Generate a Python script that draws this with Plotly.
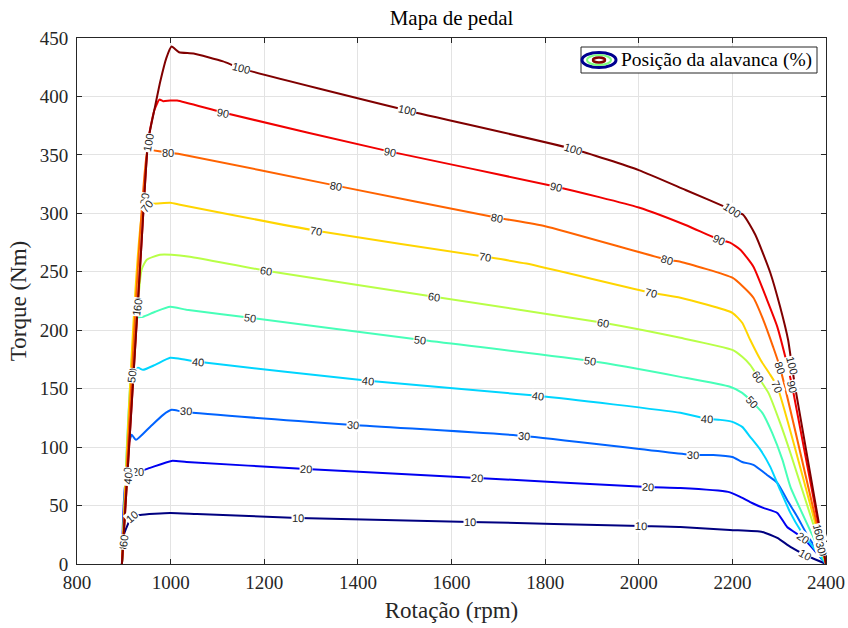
import plotly.graph_objects as go

levels = [10, 20, 30, 40, 50, 60, 70, 80, 90, 100]
colors = ["#000080", "#0000f1", "#0063ff", "#00d5ff", "#47ffb8",
          "#b8ff47", "#ffd500", "#ff6300", "#f10000", "#800000"]

rpm_10 = [896, 900, 917, 935, 999, 1056, 1272, 1640, 2005, 2089, 2195, 2264, 2296, 2324, 2356, 2400]
nm_10 = [0, 24.8, 40.2, 42, 43.7, 42.8, 39.4, 36, 32.5, 31.7, 29.1, 27.4, 22.3, 14.6, 7.7, 0]

rpm_20 = [896, 908, 930, 956, 1002, 1034, 1289, 1655, 2020, 2089, 2191, 2217, 2242, 2266, 2296, 2317, 2351, 2371, 2400]
nm_20 = [0, 78.8, 78.8, 82.2, 88.2, 87.3, 81.3, 73.6, 65.9, 65.1, 61.7, 57.4, 52.2, 48, 43.7, 31.7, 22.3, 13.7, 0]

rpm_30 = [896, 911, 917, 926, 956, 984, 1002, 1027, 1390, 1755, 2116, 2159, 2200, 2221, 2245, 2274, 2296, 2317, 2339, 2360, 2400]
nm_30 = [0, 103.6, 110.5, 106.2, 117.3, 127.6, 131.9, 130.2, 119, 109.6, 93.3, 93.3, 91.6, 87.3, 84.8, 76.2, 69.4, 54.8, 40.2, 24.8, 0]

rpm_40 = [896, 920, 930, 941, 967, 999, 1020, 1059, 1422, 1785, 2089, 2146, 2174, 2200, 2221, 2238, 2260, 2281, 2302, 2324, 2345, 2400]
nm_40 = [0, 157.6, 167.8, 166.1, 170.4, 176.4, 175.5, 173, 156.7, 143.9, 129.3, 124.2, 123.3, 121.6, 117.3, 108.8, 97.6, 83.1, 63.4, 43.7, 29.1, 0]

rpm_50 = [896, 928, 941, 967, 999, 1034, 1170, 1533, 1896, 2089, 2195, 2221, 2242, 2264, 2285, 2307, 2324, 2400]
nm_50 = [0, 210.6, 211.5, 215.8, 220, 217.5, 210.6, 191.8, 173.8, 160.1, 151.6, 146.4, 138.7, 129.3, 112.2, 89.1, 66, 0]

rpm_60 = [896, 938, 949, 977, 1002, 1041, 1204, 1563, 1924, 2089, 2200, 2221, 2238, 2255, 2277, 2302, 2324, 2400]
nm_60 = [0, 251.7, 260.3, 264.6, 264.6, 262.9, 250.9, 228.6, 206.4, 193.5, 183.2, 177.3, 170.4, 160.1, 146.4, 120.7, 95, 0]

rpm_70 = [896, 944, 958, 999, 1020, 1311, 1672, 1760, 2027, 2089, 2200, 2221, 2238, 2260, 2281, 2296, 2400]
nm_70 = [0, 310, 308.3, 309.1, 307.4, 285.1, 262.9, 257, 232, 227.8, 214.9, 206.4, 191.8, 174.7, 161.8, 151.6, 0]

rpm_80 = [896, 951, 956, 994, 1016, 1353, 1698, 1800, 2061, 2089, 2200, 2223, 2245, 2266, 2287, 2302, 2400]
nm_80 = [0, 355, 354.5, 352, 351, 323.7, 296.3, 289, 260.3, 258.6, 244.9, 237.2, 227.8, 208.9, 185.8, 167.8, 0]

rpm_90 = [896, 937, 952, 965, 976, 984, 999, 1014, 1112, 1469, 1824, 2000, 2100, 2172, 2195, 2217, 2245, 2274, 2296, 2313, 2328, 2400]
nm_90 = [0, 269, 362, 388, 397.3, 395.9, 396.5, 396.5, 386.2, 352.8, 322.8, 305, 290, 277.4, 274.9, 268.9, 254.3, 226, 202.9, 177.3, 151.6, 0]

rpm_100 = [896, 937, 952, 966, 978, 991, 1002, 1018, 1049, 1112, 1150, 1505, 1860, 2000, 2100, 2199, 2223, 2249, 2281, 2302, 2319, 2327, 2334, 2400]
nm_100 = [0, 269, 362, 390, 413, 433, 442.7, 437.8, 436.7, 430, 424, 388, 355, 337, 320, 303, 298.8, 281.7, 249.2, 220, 191.8, 170, 151.6, 0]

series_rpm = [rpm_10, rpm_20, rpm_30, rpm_40, rpm_50, rpm_60, rpm_70, rpm_80, rpm_90, rpm_100]
series_nm = [nm_10, nm_20, nm_30, nm_40, nm_50, nm_60, nm_70, nm_80, nm_90, nm_100]

# inline contour labels
lab_text = ["10", "10", "10", "10", "10",
            "20", "20", "20", "20", "20",
            "30", "30", "30", "30",
            "40", "40", "40", "40",
            "50", "50", "50", "50",
            "60", "60", "60", "60",
            "70", "70", "70", "70",
            "80", "80", "80", "80", "80",
            "90", "90", "90", "90", "90",
            "100", "100", "100", "100", "100",
            "100", "90", "70", "100", "60", "80", "50", "100", "40", "80", "60",
            "100", "60", "40", "30"]
lab_rpm = [917, 1272, 1640, 2005, 2356,
           930, 1289, 1655, 2020, 2351,
           1032, 1390, 1755, 2116,
           1059, 1422, 1785, 2146,
           1170, 1533, 1896, 2242,
           1204, 1563, 1924, 2255,
           1311, 1672, 2027, 2296,
           994, 1353, 1698, 2061, 2302,
           1112, 1469, 1824, 2172, 2328,
           1150, 1505, 1860, 2199, 2327,
           953, 945, 950, 928, 929, 917, 917, 907, 908, 899, 899,
           2384, 2386, 2392, 2390]
lab_nm = [40.2, 39.4, 36, 32.5, 7.7,
          78.8, 81.3, 73.6, 65.9, 22.3,
          130.5, 119, 109.6, 93.3,
          173, 156.7, 143.9, 124.2,
          210.6, 191.8, 173.8, 138.7,
          250.9, 228.6, 206.4, 160.1,
          285.1, 262.9, 232, 151.6,
          352, 323.7, 296.3, 260.3, 167.8,
          386.2, 352.8, 322.8, 277.4, 151.6,
          424, 388, 355, 303, 170,
          360, 312, 306, 220, 222, 162, 160, 75, 73, 18, 20,
          27, 25, 12, 14]
lab_angle = [-40, 1, 1, 2, 30,
             0, 3, 3, 4, 35,
             3, 4, 5, 2,
             5, 6, 7, 2,
             8, 7, 8, 48,
             8, 8, 9, 55,
             9, 9, 13, 68,
             0, 10, 10, 16, 72,
             11, 11, 13, 25, 76,
             14, 13, 17, 33, 76,
             -80, -80, -50, -83, -83, -83, -83, -83, -83, -83, -83,
             75, 75, 75, 75]

fig = go.Figure()
for lev, col, xs, ys in zip(levels, colors, series_rpm, series_nm):
    fig.add_trace(go.Scatter(x=xs, y=ys, mode="lines", name=str(lev),
                             line=dict(color=col, width=2, shape="spline", smoothing=0.5),
                             showlegend=False, hoverinfo="skip"))

for t, xv, yv, a in zip(lab_text, lab_rpm, lab_nm, lab_angle):
    fig.add_annotation(x=xv, y=yv, xref="x", yref="y", text=t, showarrow=False,
                       textangle=a, bgcolor="white", borderpad=0,
                       font=dict(family="Liberation Sans, Arial", size=11, color="#262626"))

serif = "Liberation Serif, Times New Roman, serif"
axis_common = dict(showline=True, linecolor="#262626", linewidth=1, mirror="ticks",
                   ticks="inside", ticklen=5, tickcolor="#262626",
                   showgrid=True, gridcolor="#e3e3e3", gridwidth=1, zeroline=False,
                   tickfont=dict(family=serif, size=19, color="#262626"))

fig.update_xaxes(range=[800, 2400], dtick=200, tick0=800, ticklabelstandoff=1,
                 title=dict(text="Rotação (rpm)", font=dict(family=serif, size=23, color="#262626"), standoff=10),
                 **axis_common)
fig.update_yaxes(range=[0, 450], dtick=50, tick0=0, ticklabelstandoff=4,
                 title=dict(text="Torque (Nm)", font=dict(family=serif, size=23, color="#262626"), standoff=6),
                 **axis_common)

# legend box drawn with shapes (contour-style icon) + text
fig.add_shape(type="rect", xref="paper", yref="paper", xsizemode="pixel", ysizemode="pixel",
              xanchor=1, yanchor=1, x0=-245, x1=-9, y0=-9, y1=-35,
              line=dict(color="#262626", width=1), fillcolor="white", layer="above")
icon_rings = [(17, 7.5, "#00008f", 3), (12, 5, "#80ff80", 2), (6, 2.5, "#800000", 2.5)]
for rx, ry, c, w in icon_rings:
    fig.add_shape(type="circle", xref="paper", yref="paper", xsizemode="pixel", ysizemode="pixel",
                  xanchor=(599 - 77) / 749, yanchor=1, x0=-rx, x1=rx, y0=-22 - ry, y1=-22 + ry,
                  line=dict(color=c, width=w), layer="above")
fig.add_annotation(xref="paper", yref="paper", x=(619 - 77) / 749, y=1, yshift=-22,
                   xanchor="left", yanchor="middle", showarrow=False,
                   text="Posição da alavanca (%)",
                   font=dict(family=serif, size=19.5, color="#000000"))

fig.update_layout(
    width=848, height=628,
    margin=dict(l=77, r=22, t=38, b=64, autoexpand=False),
    paper_bgcolor="white", plot_bgcolor="white",
    title=dict(text="Mapa de pedal", x=0.5, xref="paper", y=1 - 18 / 628, yref="container",
               xanchor="center", yanchor="middle",
               font=dict(family=serif, size=21, color="#000000")),
    showlegend=False,
)

fig.write_html("out.html")
